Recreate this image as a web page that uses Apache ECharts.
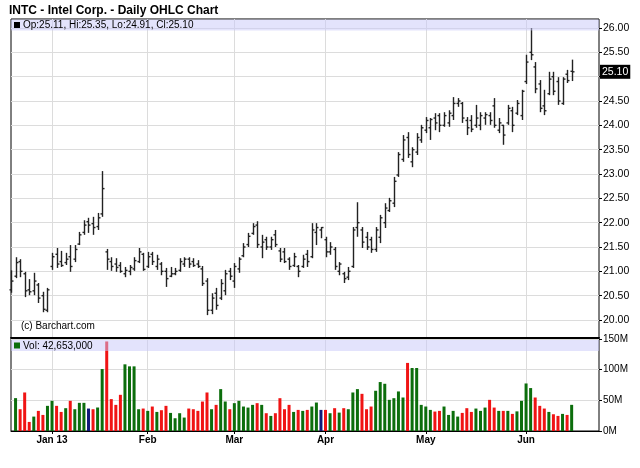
<!DOCTYPE html>
<html><head><meta charset="utf-8">
<script src="https://cdn.jsdelivr.net/npm/echarts@6/dist/echarts.min.js"></script>
<style>html,body{margin:0;padding:0;background:#fff}#c{width:640px;height:468px}</style>
</head><body><div id="c"></div>
<script>
const dates = [
'2012-12-18','2012-12-19','2012-12-20','2012-12-21','2012-12-24','2012-12-26','2012-12-27','2012-12-28','2012-12-31',
'2013-01-02','2013-01-03','2013-01-04','2013-01-07','2013-01-08','2013-01-09','2013-01-10','2013-01-11','2013-01-14','2013-01-15','2013-01-16','2013-01-17','2013-01-18','2013-01-22','2013-01-23','2013-01-24','2013-01-25','2013-01-28','2013-01-29','2013-01-30','2013-01-31',
'2013-02-01','2013-02-04','2013-02-05','2013-02-06','2013-02-07','2013-02-08','2013-02-11','2013-02-12','2013-02-13','2013-02-14','2013-02-15','2013-02-19','2013-02-20','2013-02-21','2013-02-22','2013-02-25','2013-02-26','2013-02-27','2013-02-28',
'2013-03-01','2013-03-04','2013-03-05','2013-03-06','2013-03-07','2013-03-08','2013-03-11','2013-03-12','2013-03-13','2013-03-14','2013-03-15','2013-03-18','2013-03-19','2013-03-20','2013-03-21','2013-03-22','2013-03-25','2013-03-26','2013-03-27','2013-03-28',
'2013-04-01','2013-04-02','2013-04-03','2013-04-04','2013-04-05','2013-04-08','2013-04-09','2013-04-10','2013-04-11','2013-04-12','2013-04-15','2013-04-16','2013-04-17','2013-04-18','2013-04-19','2013-04-22','2013-04-23','2013-04-24','2013-04-25','2013-04-26','2013-04-29','2013-04-30',
'2013-05-01','2013-05-02','2013-05-03','2013-05-06','2013-05-07','2013-05-08','2013-05-09','2013-05-10','2013-05-13','2013-05-14','2013-05-15','2013-05-16','2013-05-17','2013-05-20','2013-05-21','2013-05-22','2013-05-23','2013-05-24','2013-05-28','2013-05-29','2013-05-30','2013-05-31',
'2013-06-03','2013-06-04','2013-06-05','2013-06-06','2013-06-07','2013-06-10','2013-06-11','2013-06-12','2013-06-13','2013-06-14','2013-06-17'
];
// empty trading days to the right of the last bar
const futureDates = ['2013-06-18','2013-06-19','2013-06-20','2013-06-21','2013-06-24','2013-06-25'];

const opens = [
20.62,20.90,21.20,20.95,20.62,20.60,20.72,20.50,20.20,
21.10,21.35,21.20,21.18,21.30,21.25,21.56,21.80,22.02,21.98,21.92,22.18,21.40,21.20,21.15,21.12,20.95,21.00,21.05,21.20,21.35,
21.10,21.35,21.10,21.15,21.00,20.90,20.95,21.02,21.15,21.25,21.20,21.15,21.05,20.80,20.20,20.55,20.45,20.60,21.00,
20.80,21.05,21.32,21.55,21.78,21.95,21.50,21.65,21.50,21.75,21.42,21.40,21.25,21.12,21.10,21.10,21.35,21.30,21.80,21.85,
21.65,21.40,21.45,21.00,20.95,20.88,21.10,21.90,21.85,21.70,21.65,21.45,21.70,22.00,22.25,22.40,22.98,23.30,23.75,23.25,23.45,23.70,
23.90,23.95,24.15,24.20,24.00,24.05,24.20,24.45,24.45,24.10,24.10,24.00,24.00,24.15,24.20,24.40,23.90,24.00,24.05,24.30,24.25,24.20,
24.90,25.50,25.20,24.85,24.40,24.65,25.00,24.90,24.45,25.05,25.11
];
const highs = [
21.02,21.29,21.25,20.99,20.84,20.97,20.76,20.58,20.66,
21.38,21.48,21.42,21.38,21.54,21.54,21.81,22.05,22.10,22.12,22.20,23.06,21.46,21.29,21.27,21.19,21.09,21.13,21.29,21.48,21.38,
21.40,21.40,21.34,21.19,21.07,21.09,21.07,21.27,21.29,21.29,21.27,21.23,21.11,20.86,20.55,20.66,20.84,21.03,21.07,
21.17,21.29,21.58,21.79,21.99,22.03,21.75,21.71,21.71,21.85,21.48,21.48,21.29,21.38,21.13,21.34,21.44,21.99,21.99,21.91,
21.71,21.60,21.50,21.19,20.99,21.09,21.91,22.42,21.91,21.81,21.71,21.91,22.16,22.40,22.51,22.94,23.45,23.80,23.86,23.55,23.84,24.01,
24.17,24.15,24.25,24.25,24.27,24.31,24.58,24.56,24.48,24.17,24.21,24.42,24.27,24.27,24.27,24.56,24.15,24.01,24.42,24.38,24.52,24.73,
25.45,26.00,25.30,24.93,24.73,25.10,25.10,24.99,24.99,25.14,25.35
];
const lows = [
20.56,20.86,20.88,20.47,20.51,20.51,20.35,20.16,20.16,
21.03,21.07,21.09,21.13,20.99,21.19,21.54,21.75,21.79,21.75,21.85,22.12,21.03,21.01,20.99,20.97,20.88,20.92,21.01,21.17,21.01,
21.07,21.13,21.03,20.92,20.68,20.88,20.92,20.99,21.09,21.07,21.09,21.07,20.70,20.10,20.12,20.21,20.41,20.51,20.82,
20.66,20.97,21.29,21.50,21.75,21.48,21.27,21.44,21.44,21.50,21.19,21.17,21.03,21.09,20.88,21.07,21.09,21.27,21.54,21.68,
21.29,21.34,21.03,20.92,20.76,20.82,21.07,21.71,21.48,21.44,21.38,21.40,21.58,21.89,22.22,22.32,22.94,23.25,23.33,23.14,23.39,23.64,
23.84,23.70,23.90,23.86,23.97,23.97,24.11,24.38,24.05,23.80,23.86,23.95,23.90,24.01,24.01,23.95,23.84,23.60,24.01,23.86,24.21,24.11,
24.85,25.34,24.66,24.27,24.21,24.62,24.62,24.42,24.42,24.87,24.91
];
const closes = [
20.80,21.18,21.00,20.60,20.58,20.80,20.45,20.22,20.62,
21.30,21.15,21.12,21.25,21.10,21.45,21.75,21.95,21.95,21.90,22.10,22.70,21.25,21.10,21.08,21.00,21.02,21.08,21.22,21.40,21.04,
21.30,21.20,21.25,21.00,20.85,20.95,21.00,21.20,21.25,21.15,21.12,21.10,20.75,20.20,20.45,20.30,20.75,20.95,20.90,
21.10,21.25,21.50,21.72,21.92,21.55,21.60,21.50,21.65,21.55,21.25,21.20,21.10,21.30,21.00,21.25,21.20,21.85,21.90,21.90,
21.40,21.50,21.10,21.15,20.85,21.00,21.85,22.00,21.60,21.50,21.45,21.85,22.10,22.30,22.45,22.85,23.40,23.70,23.40,23.50,23.75,23.95,
24.10,24.12,24.05,24.00,24.20,24.25,24.45,24.50,24.15,23.95,23.92,24.15,24.20,24.22,24.10,24.00,24.05,23.80,24.35,24.00,24.45,24.70,
25.30,25.45,24.75,24.35,24.30,24.95,24.70,24.50,24.95,24.92,25.10
];
// volume in millions of shares (first day's bar is not visible)
const volumes = [
null,53.6,35.5,62.8,14.8,23.5,32.8,26.2,41.0,
49.2,41.0,31.1,37.2,49.2,35.5,45.9,45.9,36.6,35.5,38.3,101,146,52,42.6,59,108.7,105.4,105.4,35.5,36.6,
32.8,39.9,31.1,33.9,41.0,29.5,20.8,29.0,21.9,36.6,35.5,32.8,48,62.8,35.5,42.6,68.3,48.1,35.5,
45.4,49.2,39.9,38.2,42.6,45.4,42.6,29.0,24.6,29.0,53.5,35.5,42.6,31.1,34.4,32.8,34.4,39.9,46.4,34.4,
34.4,29.0,37.2,30.0,37.2,35.5,62.8,68.3,60.6,35.5,39.9,65.6,79.8,77.0,50.8,53.5,64.5,54.6,111,102.7,102.7,42.6,
39.9,34.4,31.7,32.8,39.9,26.2,32.8,23.5,29.5,37.2,31.1,36.6,32.8,38.2,50.8,38.2,32.8,32.8,32.8,27.9,32.0,49.2,
77.5,70.0,54.6,41.0,36.6,31.1,27.3,24.6,27.9,26.2,42.653
];
const lastVolumeShares = 42653000;
const priceTicks = [20,20.5,21,21.5,22,22.5,23,23.5,24,24.5,25,25.5,26];
const volumeTicks = [0,50,100,150];
const monthTickIdx = [9,30,49,69,91,113];
const monthTickLabels = ['Jan 13','Feb','Mar','Apr','May','Jun'];

const FONT = '"Liberation Sans", Arial, sans-serif';
const GREEN = '#0c6e0c', RED = '#f01414', NAVY = '#101a7a';
const GRIDC = '#dcdcdc';
const n = dates.length;
const cats = dates.concat(futureDates);
const last = n - 1;
const lastClose = closes[last];

const ohlc = dates.map((d, i) => [i, opens[i], highs[i], lows[i], closes[i]]);
const volData = volumes.map((v, i) => {
  if (v == null) return '-';
  let c = GREEN;
  if (i > 0) {
    if (closes[i] < closes[i - 1]) c = RED;
    else if (closes[i] === closes[i - 1]) c = NAVY;
  }
  return { value: v, itemStyle: { color: c } };
});

const isMonth = (idx) => monthTickIdx.indexOf(idx) >= 0;

const L = 11, R = 41;
const chart = echarts.init(document.getElementById('c'), null, { renderer: 'canvas' });
chart.setOption({
  animation: false,
  backgroundColor: '#fff',
  grid: [
    { left: L, right: R, top: 19, height: 319, show: true, borderColor: '#000', borderWidth: 1, backgroundColor: 'transparent', outerBoundsMode: 'none' },
    { left: L, right: R, top: 28, height: 292, outerBoundsMode: 'none' },
    { left: L, right: R, top: 339, height: 92, show: true, borderColor: '#000', borderWidth: 1, backgroundColor: 'transparent', outerBoundsMode: 'none' }
  ],
  xAxis: [
    { type: 'category', gridIndex: 0, data: cats, boundaryGap: false,
      axisLine: { show: true, lineStyle: { color: '#000', width: 2 } },
      axisTick: { show: false }, axisLabel: { show: false },
      splitLine: { show: true, interval: isMonth, lineStyle: { color: GRIDC, width: 1 } } },
    { type: 'category', gridIndex: 1, data: cats, boundaryGap: false, show: false },
    { type: 'category', gridIndex: 2, data: cats, boundaryGap: false,
      axisLine: { show: true, lineStyle: { color: '#000', width: 1 } },
      axisTick: { show: true, interval: isMonth, length: 3, inside: false, lineStyle: { color: '#000' } },
      axisLabel: { show: true, interval: isMonth, margin: 4, color: '#000', fontSize: 10, fontWeight: 'bold', fontFamily: FONT,
        formatter: (v, idx) => { const k = monthTickIdx.indexOf(idx); return k >= 0 ? monthTickLabels[k] : ''; } },
      splitLine: { show: true, interval: isMonth, lineStyle: { color: GRIDC, width: 1 } } }
  ],
  yAxis: [
    { type: 'value', gridIndex: 0, min: 0, max: 1, show: false },
    { type: 'value', gridIndex: 1, position: 'right', min: priceTicks[0], max: priceTicks[priceTicks.length - 1], interval: 0.5,
      axisLine: { show: false },
      axisTick: { show: true, length: 3, inside: false, lineStyle: { color: '#000' } },
      axisLabel: { show: true, margin: 4, color: '#000', fontSize: 10.5, fontFamily: FONT,
        formatter: (v) => Math.abs(v - lastClose) < 0.2 ? '' : v.toFixed(2) },
      splitLine: { show: true, lineStyle: { color: GRIDC, width: 1 } } },
    { type: 'value', gridIndex: 2, position: 'right', min: volumeTicks[0], max: volumeTicks[volumeTicks.length - 1], interval: 50,
      axisLine: { show: false },
      axisTick: { show: true, length: 3, inside: false, lineStyle: { color: '#000' } },
      axisLabel: { show: true, margin: 4, color: '#000', fontSize: 10, fontFamily: FONT, formatter: (v) => v + 'M' },
      splitLine: { show: true, lineStyle: { color: GRIDC, width: 1 } } }
  ],
  series: [
    { type: 'custom', name: 'OHLC', xAxisIndex: 1, yAxisIndex: 1, data: ohlc, clip: false,
      encode: { x: 0, y: [1, 2, 3, 4] },
      renderItem: (params, api) => {
        const i = api.value(0);
        const ph = api.coord([i, api.value(2)]);
        const pl = api.coord([i, api.value(3)]);
        const po = api.coord([i, api.value(1)]);
        const pc = api.coord([i, api.value(4)]);
        const x = Math.round(ph[0]) + 0.5;
        const st = { stroke: '#222', lineWidth: 1.4 };
        return { type: 'group', children: [
          { type: 'line', shape: { x1: x, y1: ph[1], x2: x, y2: pl[1] }, style: st },
          { type: 'line', shape: { x1: x - 2, y1: po[1], x2: x, y2: po[1] }, style: st },
          { type: 'line', shape: { x1: x, y1: pc[1], x2: x + 2, y2: pc[1] }, style: st }
        ] };
      } },
    { type: 'line', name: 'last', xAxisIndex: 1, yAxisIndex: 1, data: [[last, lastClose]], symbol: 'none', silent: true,
      lineStyle: { color: 'rgba(0,0,0,0)', width: 0 }, z: 10,
      markLine: { silent: true, symbol: 'none', z: 10, lineStyle: { color: 'rgba(0,0,0,0)', width: 0, type: 'solid' },
        label: { show: true, position: 'end', distance: 1, formatter: lastClose.toFixed(2), color: '#fff', backgroundColor: '#000',
          fontSize: 10.5, fontFamily: FONT, padding: [2, 2, 1, 2] },
        data: [{ yAxis: lastClose }] } },
    { type: 'bar', name: 'Volume', xAxisIndex: 2, yAxisIndex: 2, data: volData, barWidth: 3 }
  ],
  graphic: [
    { type: 'text', x: 9, y: 11, z: 200, style: { text: 'INTC - Intel Corp. - Daily OHLC Chart', font: 'bold 12px ' + FONT, fill: '#000', verticalAlign: 'middle' } },
    { type: 'rect', z: 100, shape: { x: 11, y: 19.5, width: 588, height: 11 }, style: { fill: 'rgba(200,200,250,0.5)' } },
    { type: 'rect', z: 101, shape: { x: 14, y: 22, width: 6, height: 6 }, style: { fill: '#000' } },
    { type: 'text', x: 23, y: 25.5, z: 101, style: { text: 'Op:' + opens[last].toFixed(2) + ', Hi:' + highs[last].toFixed(2) + ', Lo:' + lows[last].toFixed(2) + ', Cl:' + closes[last].toFixed(2), font: '10px ' + FONT, fill: '#000', verticalAlign: 'middle' } },
    { type: 'rect', z: 100, shape: { x: 11, y: 340, width: 588, height: 11 }, style: { fill: 'rgba(200,200,250,0.5)' } },
    { type: 'rect', z: 101, shape: { x: 14, y: 342.5, width: 6, height: 6 }, style: { fill: GREEN } },
    { type: 'text', x: 23, y: 346, z: 101, style: { text: 'Vol: ' + lastVolumeShares.toLocaleString('en-US'), font: '10px ' + FONT, fill: '#000', verticalAlign: 'middle' } },
    { type: 'text', x: 21, y: 326, z: 101, style: { text: '(c) Barchart.com', font: '10px ' + FONT, fill: '#000', verticalAlign: 'middle' } }
  ]
});
</script>
</body></html>
